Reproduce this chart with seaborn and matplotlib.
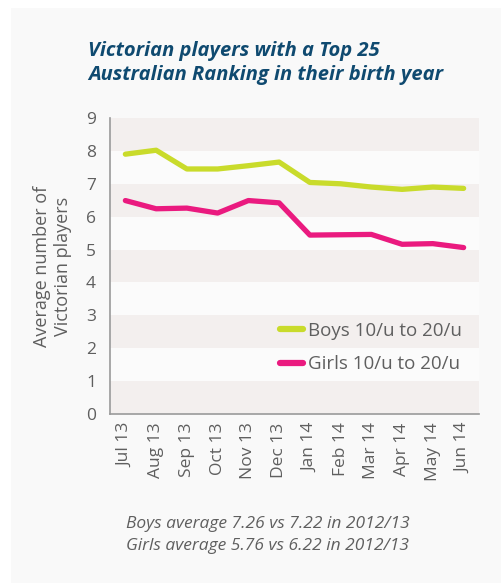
import numpy as np
import pandas as pd
import matplotlib
matplotlib.use("Agg")
import matplotlib.pyplot as plt
import seaborn as sns
from matplotlib.patches import Rectangle

months = ["Jul 13", "Aug 13", "Sep 13", "Oct 13", "Nov 13", "Dec 13",
          "Jan 14", "Feb 14", "Mar 14", "Apr 14", "May 14", "Jun 14"]
boys = [7.90, 8.02, 7.45, 7.45, 7.55, 7.66, 7.04, 7.00, 6.90, 6.83, 6.90, 6.86]
girls = [6.49, 6.24, 6.26, 6.11, 6.49, 6.42, 5.44, 5.45, 5.46, 5.16, 5.18, 5.06]
series_names = ["Boys 10/u to 20/u", "Girls 10/u to 20/u"]
series_colors = ["#c9db2b", "#ea1a7f"]

df = pd.DataFrame({
    "idx": list(range(len(months))) * 2,
    "value": boys + girls,
    "series": [series_names[0]] * len(months) + [series_names[1]] * len(months),
})

sns.set_style("white")
plt.rcParams["font.family"] = ["Open Sans", "DejaVu Sans"]

grey = "#5f5f5f"
fig = plt.figure(figsize=(5.01, 5.83), dpi=100)
fig.patch.set_facecolor("white")
# card background
fig.patches.append(Rectangle((11 / 501, 0), 1, 1 - 8 / 583, transform=fig.transFigure,
                             facecolor="#f9f9f9", edgecolor="none", zorder=-10))

ax = fig.add_axes([110 / 501, 1 - 414 / 583, 369 / 501, 296 / 583])
ax.set_facecolor("#fbfbfb")

# alternating horizontal bands
for lo in range(0, 9, 2):
    ax.axhspan(lo, lo + 1, color="#f3efee", zorder=0, lw=0)

sns.lineplot(data=df, x="idx", y="value", hue="series", palette=series_colors,
             linewidth=3.8, ax=ax, legend=True, zorder=3)
for ln in ax.get_lines():
    ln.set_solid_capstyle("round")
    ln.set_solid_joinstyle("round")

ax.set_xlim(-0.5, len(months) - 0.5)
ax.set_ylim(0, 9)
ax.set_yticks(range(0, 10))
ax.set_xticks(np.arange(len(months)))
ax.set_xticklabels(months, rotation=90, color=grey, fontsize=12.5)
ax.set_xticks(np.arange(-0.5, len(months)), minor=True)
ax.tick_params(axis="x", which="major", length=0, pad=6)
ax.tick_params(axis="x", which="minor", length=5, width=1, color="#9a9a9a", direction="out")
ax.tick_params(axis="y", length=5, width=1, color="#9a9a9a", direction="out",
               labelcolor=grey, labelsize=12.5, pad=5)
ax.set_xlabel("")
ax.set_ylabel("Average number of\nVictorian players", color=grey, fontsize=13, labelpad=10)

for s in ["top", "right"]:
    ax.spines[s].set_visible(False)
for s in ["left", "bottom"]:
    ax.spines[s].set_color("#9a9a9a")
    ax.spines[s].set_linewidth(1.2)

leg = ax.legend(loc="lower right", bbox_to_anchor=(1.0, 0.08), frameon=False,
                fontsize=13.5, handlelength=1.2, handletextpad=0.3, labelspacing=0.85)
for t in leg.get_texts():
    t.set_color(grey)
for h in leg.get_lines():
    h.set_linewidth(4.5)

fig.text(88 / 501, 1 - 41 / 583,
         "Victorian players with a Top 25\nAustralian Ranking in their birth year",
         color="#0f4a70", fontsize=14.5, fontweight="bold", fontstyle="italic",
         ha="left", va="top", linespacing=1.25)

fig.text(268 / 501, 1 - 535 / 583,
         "Boys average 7.26 vs 7.22 in 2012/13\nGirls average 5.76 vs 6.22 in 2012/13",
         color=grey, fontsize=12.5, fontstyle="italic", ha="center", va="center",
         linespacing=1.45)

fig.savefig("out.png", dpi=100)
